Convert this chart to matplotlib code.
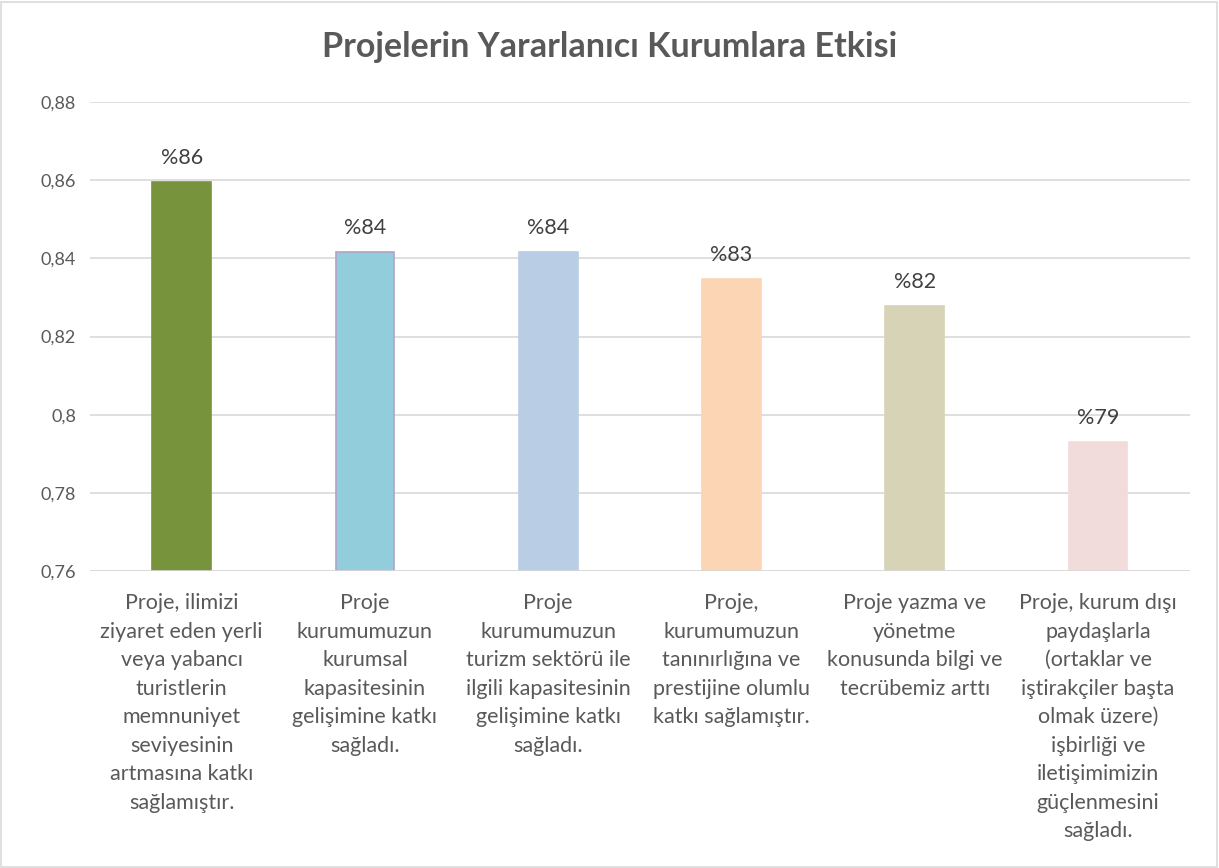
import matplotlib
matplotlib.use("Agg")
import matplotlib.pyplot as plt
from matplotlib.patches import Rectangle

categories = [
    "Proje, ilimizi\nziyaret eden yerli\nveya yabancı\nturistlerin\nmemnuniyet\nseviyesinin\nartmasına katkı\nsağlamıştır.",
    "Proje\nkurumumuzun\nkurumsal\nkapasitesinin\ngelişimine katkı\nsağladı.",
    "Proje\nkurumumuzun\nturizm sektörü ile\nilgili kapasitesinin\ngelişimine katkı\nsağladı.",
    "Proje,\nkurumumuzun\ntanınırlığına ve\nprestijine olumlu\nkatkı sağlamıştır.",
    "Proje yazma ve\nyönetme\nkonusunda bilgi ve\ntecrübemiz arttı",
    "Proje, kurum dışı\npaydaşlarla\n(ortaklar ve\niştirakçiler başta\nolmak üzere)\nişbirliği ve\niletişimimizin\ngüçlenmesini\nsağladı.",
]
values = [0.8595, 0.8416, 0.8416, 0.8347, 0.8278, 0.7930]
value_labels = ["%86", "%84", "%84", "%83", "%82", "%79"]
yticks = [0.76, 0.78, 0.80, 0.82, 0.84, 0.86, 0.88]
ytick_labels = ["0,76", "0,78", "0,8", "0,82", "0,84", "0,86", "0,88"]
colors = ["#77933C", "#92CDDC", "#B9CDE5", "#FCD5B5", "#D7D3B6", "#F2DCDB"]
edges = ["#77933C", "#B3A2C7", "#B9CDE5", "#FCD5B5", "#D7D3B6", "#F2DCDB"]
title = "Projelerin Yararlanıcı Kurumlara Etkisi"

plt.rcParams['font.family'] = ['Lato', 'DejaVu Sans']
txt = "#595959"

fig = plt.figure(figsize=(12.19, 8.68), dpi=100)
fig.patches.append(Rectangle((0.001, 0.001), 0.997, 0.997, transform=fig.transFigure,
                             fill=False, edgecolor="#d9d9d9", linewidth=1.2))
ax = fig.add_axes([0.0738, 0.342, 0.9022, 0.5405])
x = list(range(len(values)))
bars = ax.bar(x, [v - 0.76 for v in values], bottom=0.76, width=0.32,
              color=colors, edgecolor=edges, linewidth=1.2, zorder=3)
ax.set_ylim(0.76, 0.88)
ax.set_xlim(-0.5, len(values) - 0.5)
ax.set_yticks(yticks)
ax.set_yticklabels(ytick_labels, fontsize=13, color=txt)
ax.grid(axis="y", color="#d9d9d9", linewidth=1.2, zorder=0)
for s in ax.spines.values():
    s.set_visible(False)
ax.axhline(0.76, color="#d9d9d9", linewidth=1.2, zorder=4)
ax.tick_params(axis="both", length=0, pad=10)
ax.set_xticks(x)
ax.set_xticklabels(categories, fontsize=15.5, color=txt, linespacing=1.53, va="top")
ax.tick_params(axis="x", pad=16)
for xi, v, lab in zip(x, values, value_labels):
    ax.annotate(lab, (xi, v), xytext=(0, 10), textcoords="offset points",
                ha="center", va="bottom", fontsize=15.5, color="#404040")
fig.text(0.5, 0.946, title, ha="center", va="center", fontsize=24.5,
         fontweight="bold", color=txt)
fig.savefig("out.png", dpi=100)
